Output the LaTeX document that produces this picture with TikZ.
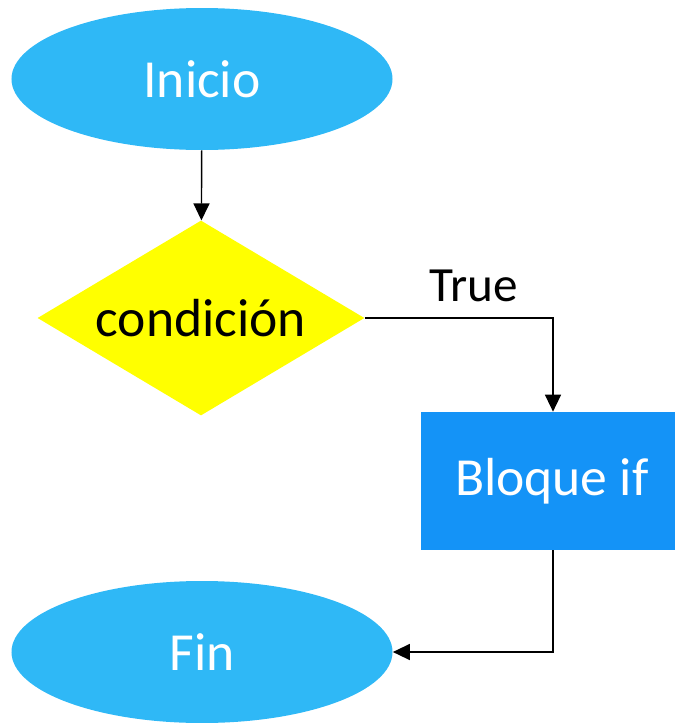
\documentclass[tikz,border=0pt]{standalone}
\usepackage{fontspec}
\setmainfont{Carlito}
\usetikzlibrary{arrows.meta,positioning,shapes.geometric}
\definecolor{startblue}{HTML}{2FB8F6}
\definecolor{ifblue}{HTML}{1493F7}
\definecolor{condyellow}{HTML}{FFFF00}
\begin{document}
\begin{tikzpicture}[
  term/.style={ellipse, fill=startblue, text=white, minimum width=7.62cm, minimum height=2.84cm, font=\fontsize{30.5}{36}\selectfont},
  cond/.style={diamond, fill=condyellow, inner sep=0pt, minimum width=6.54cm, minimum height=3.9cm, font=\fontsize{30.5}{36}\selectfont},
  block/.style={rectangle, fill=ifblue, text=white, minimum width=5.08cm, minimum height=2.76cm, font=\fontsize{30.5}{36}\selectfont},
  >={Triangle[length=3.4mm, width=3.2mm]}
]
\useasboundingbox (0,0) rectangle (13.5,-14.46);
\node[term] (inicio) at (4.04,-1.58) {Inicio};
\node[cond] (cond) at (4.02,-6.36) {\makebox[0pt]{condición}};
\node[block] (bloque) at (10.96,-9.62) {\hspace{1.5mm}Bloque if};
\node[term] (fin) at (4.04,-13.04) {Fin};
\draw[->, thick] (inicio) -- (cond);
\draw[->, thick] (cond.east) -| node[pos=0.29, above=0.2cm, font=\fontsize{28}{33}\selectfont] (true) {True} ([xshift=1mm]bloque.north);
\draw[->, thick] ([xshift=1mm]bloque.south) |- (fin.east);
\end{tikzpicture}
\end{document}
